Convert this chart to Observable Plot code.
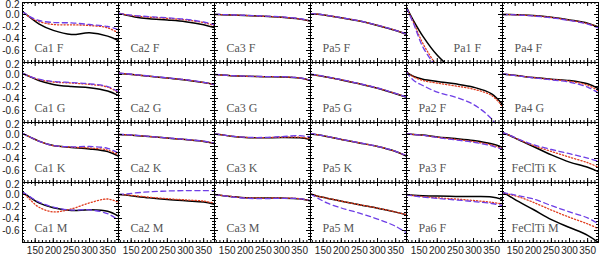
<!DOCTYPE html>
<html><head><meta charset="utf-8">
<script src="https://cdn.jsdelivr.net/npm/d3@7"></script>
<script src="https://cdn.jsdelivr.net/npm/@observablehq/plot@0.6"></script>
<style>body{margin:0;background:#fff;} svg{overflow:visible}</style>
</head><body><div id="chart"></div>
<script>
const panelNames = [
  "Ca1 F","Ca2 F","Ca3 F","Pa5 F","Pa1 F","Pa4 F",
  "Ca1 G","Ca2 G","Ca3 G","Pa5 G","Pa2 F","Pa4 G",
  "Ca1 K","Ca2 K","Ca3 K","Pa5 K","Pa3 F","FeClTi K",
  "Ca1 M","Ca2 M","Ca3 M","Pa5 M","Pa6 F","FeClTi M"
];
const xGrid = [115, 135, 160, 200, 250, 300, 350, 380];

const solidLines = [
  [0.05,-0.045,-0.155,-0.265,-0.333,-0.305,-0.36,-0.435],
  [0.02,-0.01,-0.04,-0.07,-0.092,-0.12,-0.17,-0.22],
  [0.0,-0.003,-0.008,-0.017,-0.03,-0.045,-0.075,-0.11],
  [0.01,0.005,-0.017,-0.056,-0.11,-0.183,-0.267,-0.33],
  [0.12,-0.11,-0.36,-0.68,-0.95,-1.15,-1.3,-1.35],
  [0.0,0.0,-0.006,-0.017,-0.045,-0.09,-0.145,-0.21],
  [0.02,-0.035,-0.10,-0.165,-0.20,-0.22,-0.275,-0.35],
  [0.02,0.01,-0.005,-0.03,-0.06,-0.09,-0.135,-0.17],
  [0.0,-0.01,-0.02,-0.03,-0.037,-0.04,-0.06,-0.1],
  [0.0,-0.017,-0.044,-0.09,-0.155,-0.228,-0.32,-0.378],
  [0.039,-0.033,-0.078,-0.117,-0.156,-0.211,-0.322,-0.5],
  [0.01,-0.005,-0.022,-0.05,-0.078,-0.1,-0.155,-0.235],
  [0.02,-0.04,-0.11,-0.185,-0.215,-0.24,-0.285,-0.36],
  [0.0,-0.005,-0.015,-0.035,-0.06,-0.085,-0.115,-0.15],
  [0.01,-0.005,-0.028,-0.05,-0.056,-0.05,-0.056,-0.083],
  [0.01,-0.005,-0.033,-0.083,-0.14,-0.2,-0.283,-0.36],
  [0.01,0.0,-0.01,-0.04,-0.067,-0.1,-0.155,-0.21],
  [0.03,-0.017,-0.09,-0.2,-0.34,-0.46,-0.545,-0.62],
  [0.04,-0.045,-0.14,-0.22,-0.265,-0.255,-0.28,-0.36],
  [0.0,-0.01,-0.028,-0.055,-0.083,-0.105,-0.125,-0.165],
  [0.0,-0.017,-0.033,-0.055,-0.06,-0.06,-0.072,-0.105],
  [0.01,-0.028,-0.061,-0.111,-0.172,-0.228,-0.294,-0.339],
  [0.0,-0.012,-0.02,-0.027,-0.032,-0.033,-0.04,-0.083],
  [0.04,-0.03,-0.12,-0.25,-0.42,-0.55,-0.68,-0.8]
];
const dottedLines = [
  [0.05,-0.045,-0.117,-0.167,-0.172,-0.183,-0.222,-0.31],
  [0.02,-0.003,-0.025,-0.045,-0.065,-0.09,-0.135,-0.185],
  [0.0,-0.002,-0.007,-0.016,-0.029,-0.044,-0.074,-0.108],
  [0.01,0.006,-0.015,-0.054,-0.108,-0.181,-0.265,-0.328],
  [0.11,-0.14,-0.48,-0.86,-1.2,-1.4,-1.5,-1.55],
  [0.0,-0.001,-0.008,-0.021,-0.05,-0.095,-0.152,-0.218],
  [0.02,-0.032,-0.085,-0.125,-0.143,-0.165,-0.21,-0.30],
  [0.021,0.011,-0.004,-0.029,-0.059,-0.089,-0.134,-0.168],
  [0.001,-0.009,-0.019,-0.029,-0.036,-0.039,-0.058,-0.098],
  [0.001,-0.016,-0.043,-0.089,-0.154,-0.227,-0.318,-0.376],
  [0.039,-0.04,-0.1,-0.144,-0.19,-0.244,-0.35,-0.53],
  [0.01,-0.005,-0.024,-0.052,-0.083,-0.112,-0.18,-0.27],
  [0.02,-0.04,-0.11,-0.185,-0.212,-0.225,-0.26,-0.34],
  [0.001,-0.004,-0.014,-0.034,-0.059,-0.084,-0.114,-0.149],
  [0.01,-0.005,-0.027,-0.048,-0.053,-0.045,-0.045,-0.07],
  [0.011,-0.004,-0.032,-0.082,-0.139,-0.199,-0.282,-0.358],
  [0.01,0.0,-0.013,-0.045,-0.08,-0.118,-0.175,-0.235],
  [0.03,-0.016,-0.085,-0.183,-0.283,-0.378,-0.47,-0.545],
  [0.04,-0.08,-0.21,-0.29,-0.24,-0.14,-0.075,-0.13],
  [0.0,-0.005,-0.02,-0.045,-0.07,-0.09,-0.11,-0.145],
  [0.0,-0.016,-0.032,-0.054,-0.059,-0.059,-0.07,-0.103],
  [0.011,-0.027,-0.06,-0.11,-0.17,-0.226,-0.292,-0.337],
  [0.0,-0.02,-0.035,-0.055,-0.075,-0.1,-0.13,-0.16],
  [0.03,0.0,-0.04,-0.13,-0.26,-0.38,-0.49,-0.57]
];
const dashedLines = [
  [0.05,-0.035,-0.10,-0.133,-0.14,-0.167,-0.2,-0.255],
  [0.02,0.0,-0.018,-0.035,-0.055,-0.08,-0.125,-0.17],
  [0.003,0.0,-0.005,-0.013,-0.025,-0.04,-0.07,-0.105],
  [0.012,0.008,-0.013,-0.052,-0.106,-0.179,-0.263,-0.326],
  [0.11,-0.16,-0.54,-0.9,-1.3,-1.5,-1.6,-1.65],
  [0.0,-0.002,-0.01,-0.025,-0.055,-0.1,-0.16,-0.225],
  [0.02,-0.03,-0.078,-0.117,-0.133,-0.155,-0.2,-0.29],
  [0.024,0.014,-0.001,-0.026,-0.056,-0.086,-0.131,-0.166],
  [0.003,-0.007,-0.017,-0.027,-0.034,-0.036,-0.056,-0.096],
  [0.004,-0.013,-0.04,-0.086,-0.152,-0.225,-0.316,-0.374],
  [0.039,-0.1,-0.183,-0.294,-0.378,-0.5,-0.74,-1.0],
  [0.01,-0.006,-0.025,-0.055,-0.089,-0.128,-0.211,-0.31],
  [0.02,-0.04,-0.11,-0.185,-0.205,-0.2,-0.23,-0.31],
  [0.003,-0.002,-0.012,-0.032,-0.057,-0.082,-0.112,-0.147],
  [0.01,-0.005,-0.025,-0.045,-0.05,-0.035,-0.02,-0.04],
  [0.013,-0.002,-0.03,-0.08,-0.137,-0.197,-0.28,-0.356],
  [0.01,0.0,-0.015,-0.05,-0.09,-0.13,-0.19,-0.25],
  [0.03,-0.015,-0.08,-0.17,-0.25,-0.32,-0.395,-0.45],
  [0.04,-0.035,-0.125,-0.21,-0.26,-0.255,-0.32,-0.43],
  [0.0,0.01,0.025,0.045,0.058,0.065,0.065,0.06],
  [0.0,-0.017,-0.037,-0.062,-0.068,-0.065,-0.07,-0.1],
  [0.01,-0.06,-0.14,-0.225,-0.31,-0.41,-0.53,-0.64],
  [0.0,-0.025,-0.043,-0.066,-0.09,-0.117,-0.15,-0.185],
  [0.03,0.01,-0.02,-0.075,-0.185,-0.29,-0.39,-0.49]
];
const xTickLabels = [150, 200, 250, 300, 350];
const yTickLabels = [-0.6, -0.4, -0.2, 0.0];
const yTopLabel = [0.2];
const xMinorTicks = d3.range(120, 381, 10);
const yMajorTicks = [-0.8, -0.6, -0.4, -0.2, 0.0, 0.2];
const yMinorTicks = d3.range(-0.8, 0.2001, 0.05);

const ncol = 6;
function toRows(lines) {
  const out = [];
  lines.forEach((vals, i) => vals.forEach((v, j) => out.push({
    panel: panelNames[i], col: i % ncol, row: Math.floor(i / ncol), x: xGrid[j], y: v
  })));
  return out;
}
const solidData = toRows(solidLines);
const dottedData = toRows(dottedLines);
const dashedData = toRows(dashedLines);
const labels = panelNames.map((name, i) => ({name, col: i % ncol, row: Math.floor(i / ncol)}));

const PH = 60, PW = 96, maj = 4, mnr = 2;
const lineOpts = {x: "x", y: "y", fx: "col", fy: "row", z: "panel", curve: "catmull-rom", clip: true};
const labelFont = {fontFamily: "Liberation Serif, serif", fontSize: 12, fill: "#555"};

const chart = Plot.plot({
  width: 600, height: 255,
  marginLeft: 22, marginRight: 2, marginTop: 2, marginBottom: 13,
  style: {fontFamily: "Liberation Sans, Arial, sans-serif", fontSize: "10px", color: "#222", background: "#fff"},
  fx: {domain: d3.range(6), padding: 0, axis: null},
  fy: {domain: d3.range(4), padding: 0, axis: null},
  x: {domain: [115, 380]},
  y: {domain: [-0.8, 0.2]},
  marks: [
    Plot.line(solidData, {...lineOpts, stroke: "#000", strokeWidth: 1.5}),
    Plot.line(dottedData, {...lineOpts, stroke: "#e03c1e", strokeWidth: 1.3, strokeDasharray: "1.2,2"}),
    Plot.line(dashedData, {...lineOpts, stroke: "#6e3ee6", strokeWidth: 1.3, strokeDasharray: "5,3.5"}),
    // inward ticks on all four sides
    Plot.tickX(xTickLabels, {x: d => d, insetTop: PH - maj, stroke: "#000"}),
    Plot.tickX(xTickLabels, {x: d => d, insetBottom: PH - maj, stroke: "#000"}),
    Plot.tickX(xMinorTicks, {x: d => d, insetTop: PH - mnr, stroke: "#000"}),
    Plot.tickX(xMinorTicks, {x: d => d, insetBottom: PH - mnr, stroke: "#000"}),
    Plot.tickY(yMajorTicks, {y: d => d, insetRight: PW - maj, stroke: "#000"}),
    Plot.tickY(yMajorTicks, {y: d => d, insetLeft: PW - maj, stroke: "#000"}),
    Plot.tickY(yMinorTicks, {y: d => d, insetRight: PW - mnr, stroke: "#000"}),
    Plot.tickY(yMinorTicks, {y: d => d, insetLeft: PW - mnr, stroke: "#000"}),
    Plot.frame({stroke: "#000", strokeWidth: 1}),
    Plot.text(labels.filter(d => d.name !== "Pa1 F" && !d.name.startsWith("FeClTi")),
      {fx: "col", fy: "row", text: "name", frameAnchor: "left", dx: 12, dy: 16, textAnchor: "start", ...labelFont, style: "letter-spacing:0.6px"}),
    Plot.text(labels.filter(d => d.name === "Pa1 F"),
      {fx: "col", fy: "row", text: "name", frameAnchor: "left", dx: 47, dy: 16, textAnchor: "start", ...labelFont}),
    Plot.text(labels.filter(d => d.name.startsWith("FeClTi")),
      {fx: "col", fy: "row", text: "name", frameAnchor: "left", dx: 9, dy: 16, textAnchor: "start", ...labelFont}),
    Plot.axisX({ticks: xTickLabels, tickSize: 0, tickPadding: 4, label: null, tickFormat: d => String(d)}),
    Plot.axisY({ticks: yTickLabels, tickSize: 0, tickPadding: 3, label: null, tickFormat: d => d.toFixed(1)}),
    Plot.axisY({ticks: yTopLabel, tickSize: 0, tickPadding: 3, label: null, dy: 2.5, tickFormat: d => d.toFixed(1)})
  ]
});
document.getElementById("chart").append(chart);
</script>
</body></html>
